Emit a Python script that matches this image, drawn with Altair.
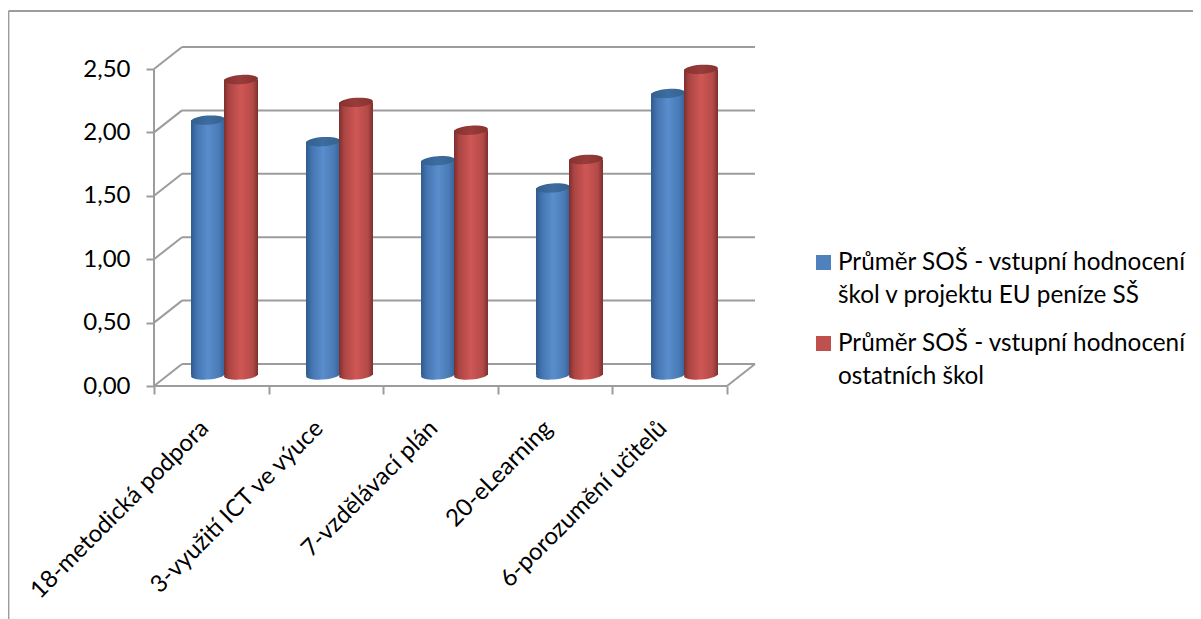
import altair as alt
import pandas as pd

categories = ["18-metodická podpora", "3-využití ICT ve výuce", "7-vzdělávací plán", "20-eLearning", "6-porozumění učitelů"]
blue_values = [2.01, 1.84, 1.69, 1.475, 2.22]
red_values = [2.33, 2.15, 1.93, 1.70, 2.41]
tick_values = [0, 0.5, 1.0, 1.5, 2.0, 2.5]
legend_labels = ["Průměr SOŠ - vstupní hodnocení\nškol v projektu EU peníze SŠ",
                 "Průměr SOŠ - vstupní hodnocení\nostatních škol"]

W, H = 603, 339
XMAX, YMAX = 603 / 114.6, 339 / 126.8
DX, DY = 28 / 114.6, 22 / 126.8          # depth of the 3-D box in data units
GRAY = "#9c9c9c"
FONT = "Lato"

xs = alt.Scale(domain=[0, XMAX], nice=False, zero=False)
ys = alt.Scale(domain=[0, YMAX], nice=False, zero=False)
X = lambda f: alt.X(f, type="quantitative", scale=xs, axis=None)
Y = lambda f: alt.Y(f, type="quantitative", scale=ys, axis=None)
n = len(categories)

# axes (ticks + labels)
axes_df = pd.DataFrame({"x": [0.0], "y": [0.0]})
axes = alt.Chart(axes_df).mark_point(opacity=0).encode(
    x=alt.X("x:Q", scale=xs, title=None, axis=alt.Axis(values=list(range(n + 1)), labels=False, domain=False,
            grid=False, tickSize=8, tickWidth=2, tickColor=GRAY)),
    y=alt.Y("y:Q", scale=ys, title=None, axis=alt.Axis(values=tick_values, domain=False, grid=False, tickSize=8,
            tickWidth=2, tickColor=GRAY, labelPadding=16, labelFont=FONT, labelFontSize=24, labelColor="#000",
            labelExpr="replace(format(datum.value,'.2f'),'.',',')")),
)

# back wall gridlines and left-wall diagonals
grid_df = pd.DataFrame({"v": tick_values})
grid_df["y"] = grid_df.v + DY
grid_df["x"] = DX
grid_df["x2"] = DX + n
back = alt.Chart(grid_df).mark_rule(color=GRAY, strokeWidth=2).encode(x=X("x"), x2="x2", y=Y("y"))
diag = alt.Chart(grid_df.assign(x0=0.0)).mark_rule(color=GRAY, strokeWidth=2).encode(
    x=X("x0"), x2="x", y=Y("v"), y2="y")
front = alt.Chart(pd.DataFrame({"x": [0.0, 0.0, float(n)], "x2": [float(n), 0.0, n + DX],
                                "y": [0.0, 0.0, 0.0], "y2": [0.0, 2.5, DY]})
                  ).mark_rule(color=GRAY, strokeWidth=2).encode(x=X("x"), x2="x2", y=Y("y"), y2="y2")

def grad(stops):
    return alt.Gradient(gradient="linear", x1=0, x2=1, y1=0, y2=0,
                        stops=[alt.GradientStop(offset=o, color=c) for o, c in stops])

BODY_B = grad([(0, "#2f5a8e"), (0.18, "#4576b2"), (0.5, "#5a8dcc"), (0.82, "#4a7bb6"), (1, "#34629a")])
BODY_R = grad([(0, "#7c2f2d"), (0.15, "#ab4543"), (0.5, "#cf5755"), (0.85, "#b34a47"), (1, "#7c2f2d")])
CAP_B = grad([(0, "#33608f"), (0.5, "#3d6c9f"), (1, "#34628f")])
CAP_R = grad([(0, "#86322f"), (0.5, "#973c3a"), (1, "#86322f")])
ELLIPSE = "M-1,0 A1,0.27 0 1,1 1,0 A1,0.27 0 1,1 -1,0 Z"

def cylinders(values, left, body, cap):
    width = 34 / 114.6
    df = pd.DataFrame({"v": values})
    df["i"] = range(n)
    df["x"] = df.i * 115 / 114.6 + left
    df["x2"] = df.x + width
    df["xc"] = df.x + width / 2
    df["y0"] = DY / 2
    df["y1"] = df.v + DY / 2
    base = alt.Chart(df)
    size = 34.0 ** 2
    return [
        base.mark_point(shape=ELLIPSE, filled=True, fill=body, opacity=1, size=size, strokeWidth=0, angle=356).encode(x=X("xc"), y=Y("y0")),
        base.mark_bar(fill=body, strokeWidth=0).encode(x=X("x"), x2="x2", y=Y("y0"), y2="y1"),
        base.mark_point(shape=ELLIPSE, filled=True, fill=cap, opacity=1, size=size, strokeWidth=0, angle=356).encode(x=X("xc"), y=Y("y1")),
    ]

blue = cylinders(blue_values, 37 / 114.6, BODY_B, CAP_B)
red = cylinders(red_values, 70 / 114.6, BODY_R, CAP_R)

# rotated category labels
lab_df = pd.DataFrame({"c": categories})
lab_df["x"] = [i + 0.5 for i in range(n)]
lab_df["y"] = 0.0
xlabels = alt.Chart(lab_df).mark_text(angle=315, align="right", baseline="middle", font=FONT, fontSize=24,
                                      color="#000", dx=-32, dy=23).encode(x=X("x"), y=Y("y"), text="c:N")

# frame
frame = [
    alt.Chart(axes_df).mark_rule(color=GRAY, strokeWidth=1.8).encode(
        x=alt.value(-145.5), x2=alt.value(1039), y=alt.value(-36)),
    alt.Chart(axes_df).mark_rule(color=GRAY, strokeWidth=1.8).encode(
        x=alt.value(-145.5), y=alt.value(-36), y2=alt.value(572)),
]

# legend
def legend(i, col, sq_y, txt_y):
    d = pd.DataFrame({"t": [legend_labels[i]]})
    return [
        alt.Chart(d).mark_square(color=col, size=225, opacity=1, filled=True).encode(
            x=alt.value(669.5), y=alt.value(sq_y)),
        alt.Chart(d).mark_text(align="left", baseline="alphabetic", font=FONT, fontSize=24.3, color="#000",
                               lineBreak="\n", lineHeight=33).encode(
            x=alt.value(684), y=alt.value(txt_y), text="t:N"),
    ]

chart = alt.layer(
    axes, back, diag, front, *blue, *red, xlabels, *frame,
    *legend(0, "#4f81bd", 215.5, 223), *legend(1, "#c0504d", 296.5, 304),
).resolve_axis(x="independent", y="independent").properties(
    width=W, height=H,
    autosize=alt.AutoSizeParams(type="none"),
    padding={"left": 146, "top": 39, "right": 436, "bottom": 233},
    background="white",
).configure_view(stroke=None)

chart.save("out.html", embed_options={"renderer": "svg", "actions": False})
